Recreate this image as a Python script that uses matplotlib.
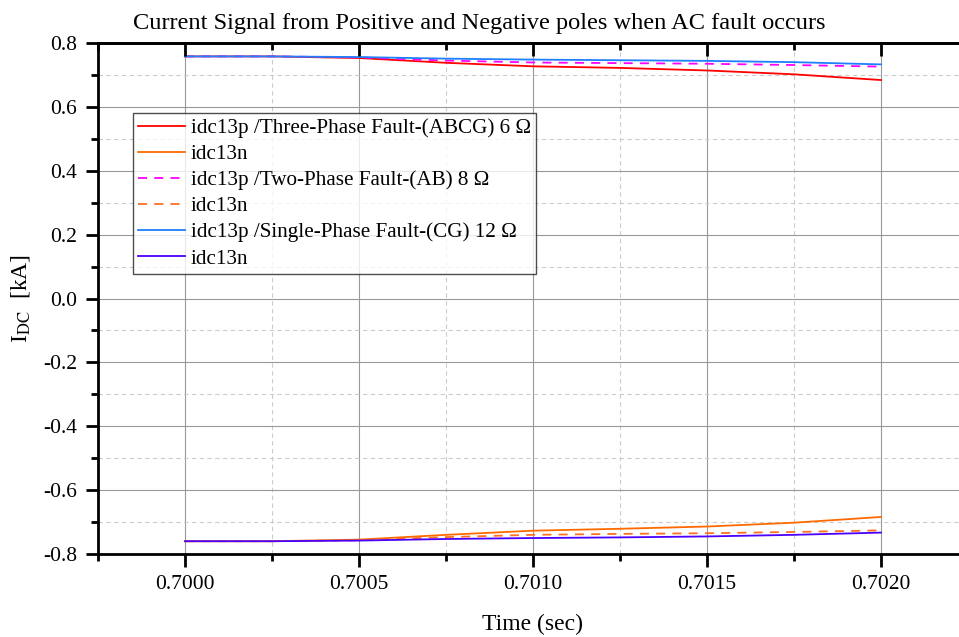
import matplotlib
matplotlib.use("Agg")
import matplotlib.pyplot as plt
from matplotlib.ticker import MultipleLocator, FormatStrFormatter

plt.rcParams['font.family'] = ['Liberation Serif', 'DejaVu Serif']
plt.rcParams['mathtext.fontset'] = 'stix'

time = [0.7000, 0.70025, 0.7005, 0.70075, 0.7010, 0.70125, 0.7015, 0.70175, 0.7020]
p_three = [0.758, 0.758, 0.753, 0.738, 0.727, 0.722, 0.714, 0.702, 0.684]
n_three = [-0.760, -0.760, -0.755, -0.740, -0.727, -0.721, -0.714, -0.702, -0.684]
p_two = [0.758, 0.758, 0.755, 0.745, 0.739, 0.737, 0.735, 0.731, 0.726]
n_two = [-0.760, -0.760, -0.757, -0.747, -0.740, -0.737, -0.735, -0.731, -0.726]
p_single = [0.758, 0.758, 0.756, 0.751, 0.748, 0.746, 0.744, 0.740, 0.733]
n_single = [-0.760, -0.760, -0.758, -0.753, -0.750, -0.748, -0.745, -0.740, -0.733]

labels = ["idc13p /Three-Phase Fault-(ABCG) 6 Ω", "idc13n",
          "idc13p /Two-Phase Fault-(AB) 8 Ω", "idc13n",
          "idc13p /Single-Phase Fault-(CG) 12 Ω", "idc13n"]

fig = plt.figure(figsize=(9.59, 6.37), dpi=100)
x0, x1 = 98 / 959, 968 / 959
y0, y1 = 1 - 554 / 637, 1 - 43 / 637
ax = fig.add_axes([x0, y0, x1 - x0, y1 - y0])

lw = 1.3
ax.plot(time, p_three, color='#FF0000', lw=lw, label=labels[0])
ax.plot(time, n_three, color='#FF6A00', lw=lw, label=labels[1])
ax.plot(time, p_two, color='#FF00FF', lw=lw, ls=(0, (5, 4)), label=labels[2])
ax.plot(time, n_two, color='#FF7020', lw=lw, ls=(0, (5, 4)), label=labels[3])
ax.plot(time, p_single, color='#1E7FFF', lw=lw, label=labels[4])
ax.plot(time, n_single, color='#4A00FF', lw=lw, label=labels[5])

ax.set_xlim(0.69975, 0.70225)
ax.set_ylim(-0.8, 0.8)
ax.xaxis.set_major_locator(MultipleLocator(0.0005))
ax.xaxis.set_minor_locator(MultipleLocator(0.00025))
ax.yaxis.set_major_locator(MultipleLocator(0.2))
ax.yaxis.set_minor_locator(MultipleLocator(0.1))
ax.xaxis.set_major_formatter(FormatStrFormatter('%.4f'))
ax.yaxis.set_major_formatter(FormatStrFormatter('%.1f'))

ax.grid(which='major', color='#999999', lw=0.8, ls='-')
ax.grid(which='minor', color='#cccccc', lw=0.8, ls=(0, (4, 3)))
ax.set_axisbelow(True)

for s in ax.spines.values():
    s.set_linewidth(2.0)
ax.tick_params(which='major', direction='out', length=9, width=2, labelsize=15.5, pad=6)
ax.tick_params(which='minor', direction='out', length=5, width=2)

top = ax.twiny()
top.set_xlim(ax.get_xlim())
top.xaxis.set_major_locator(MultipleLocator(0.0005))
top.xaxis.set_minor_locator(MultipleLocator(0.00025))
top.tick_params(axis='x', which='major', direction='in', length=9, width=2, labeltop=False,
                colors='black')
top.tick_params(axis='x', which='minor', direction='in', length=5, width=2, colors='black')
for k, s in top.spines.items():
    s.set_visible(k == 'top')
    s.set_linewidth(2.0)

ax.set_xlabel('Time (sec)', fontsize=17, labelpad=14.5)
ax.set_ylabel(r'I$_{\mathrm{DC}}$  [kA]', fontsize=17, labelpad=8)
fig.text(0.5, 1 - 23 / 637, 'Current Signal from Positive and Negative poles when AC fault occurs',
         ha='center', va='center', fontsize=17.6)

leg = ax.legend(loc='upper left', bbox_to_anchor=((133 / 959 - x0) / (x1 - x0), 1 - (113 - 43) / 511),
                fontsize=15.2, frameon=True, fancybox=False, edgecolor='#222222',
                borderaxespad=0, handlelength=2.2, labelspacing=0.3, borderpad=0.25,
                handletextpad=0.3)
leg.get_frame().set_linewidth(1.0)

fig.savefig('out.png', dpi=100)
